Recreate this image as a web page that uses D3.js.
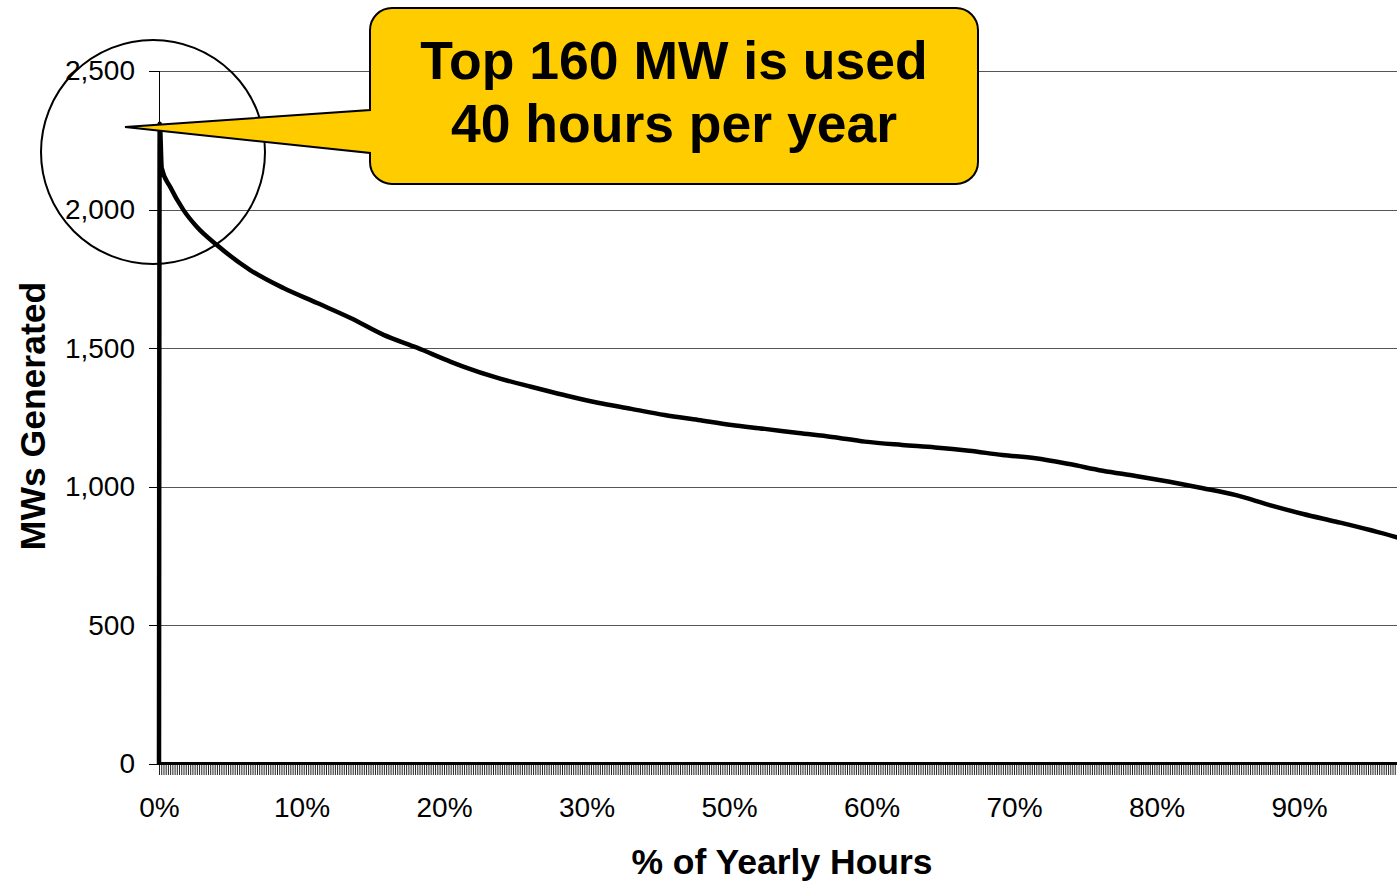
<!DOCTYPE html>
<html>
<head>
<meta charset="utf-8">
<script src="https://cdn.jsdelivr.net/npm/d3@7"></script>
<style>
  html, body { margin: 0; padding: 0; background: #fff; }
  svg { display: block; }
  text { font-family: Arial, "Liberation Sans", sans-serif; }
</style>
</head>
<body>
<svg id="chart" width="1397" height="881"></svg>
<script>
// ---- data ----
// x position in label slots (one slot = one labelled step on the category axis)
const xTickSlots = [0, 1, 2, 3, 4, 5, 6, 7, 8];
const xTickLabels = ["0%", "10%", "20%", "30%", "50%", "60%", "70%", "80%", "90%"];
const yTickValues = [0, 500, 1000, 1500, 2000, 2500];

const curveX = [0, 0.005, 0.007, 0.019, 0.077, 0.171, 0.265, 0.406, 0.640, 0.873, 1.110, 1.344,
  1.576, 1.814, 2.048, 2.140, 2.376, 2.611, 2.843, 3.080, 3.315, 3.547, 3.784, 4.018, 4.251,
  4.488, 4.722, 4.954, 5.215, 5.447, 5.684, 5.918, 6.151, 6.388, 6.622, 6.854, 7.091, 7.326,
  7.558, 7.795, 8.029, 8.262, 8.499, 8.710, 8.760];
const curveMW = [0, 2310, 2305, 2150, 2083, 1999, 1938, 1872, 1782, 1717, 1663, 1609,
  1548, 1501, 1451, 1433, 1393, 1361, 1331, 1303, 1281, 1259, 1241, 1223, 1209,
  1194, 1180, 1163, 1151, 1142, 1130, 1115, 1103, 1082, 1058, 1039, 1018, 995,
  970, 934, 902, 874, 844, 814, 805];

const calloutLines = ["Top 160 MW is used", "40 hours per year"];
const yTitle = "MWs Generated";
const xTitle = "% of Yearly Hours";

// ---- layout ----
const svg = d3.select("#chart");
const plotLeft = 159, plotBottom = 764, plotTop = 71;
const x = d3.scaleLinear().domain([0, 10]).range([plotLeft, plotLeft + 1425]);
const y = d3.scaleLinear().domain([0, 2500]).range([plotBottom, plotTop]);
const font = 'Arial, "Liberation Sans", sans-serif';

// gridlines
svg.append("g")
  .attr("transform", `translate(${plotLeft},0)`)
  .call(d3.axisLeft(y).tickValues(yTickValues.filter(v => v > 0)).tickSize(-1400).tickFormat(""))
  .call(g => g.select(".domain").remove())
  .call(g => g.selectAll("line").attr("stroke", "#555").attr("stroke-width", 1)
    .attr("shape-rendering", "crispEdges"));

// y axis
svg.append("g")
  .attr("transform", `translate(${plotLeft},0)`)
  .call(d3.axisLeft(y).tickValues(yTickValues).tickSize(10).tickPadding(14).tickFormat(d3.format(",")))
  .call(g => g.select(".domain").attr("stroke", "#000").attr("stroke-width", 1).attr("shape-rendering", "crispEdges"))
  .call(g => g.selectAll("line").attr("stroke", "#000").attr("shape-rendering", "crispEdges"))
  .call(g => g.selectAll("text").attr("font-size", 28).attr("font-family", font).attr("fill", "#000"));

// minor x ticks (dense category ticks)
const minorTicks = d3.range(0, 10, 1 / 64);
svg.append("g")
  .attr("transform", `translate(0,${plotBottom})`)
  .call(d3.axisBottom(x).tickValues(minorTicks).tickSize(11).tickFormat(""))
  .call(g => g.select(".domain").remove())
  .call(g => g.selectAll("line").attr("stroke", "#222").attr("stroke-width", 1));

// x labels
svg.append("g")
  .attr("transform", `translate(0,${plotBottom})`)
  .call(d3.axisBottom(x).tickValues(xTickSlots).tickSize(0).tickPadding(33)
    .tickFormat((d, i) => xTickLabels[i]))
  .call(g => g.select(".domain").remove())
  .call(g => g.selectAll("text").attr("font-size", 28).attr("font-family", font).attr("fill", "#000"));

// x axis line
svg.append("line")
  .attr("x1", x(0)).attr("x2", 1397).attr("y1", y(0) - 0.5).attr("y2", y(0) - 0.5)
  .attr("stroke", "#000").attr("stroke-width", 3);

// curve
const pts = curveX.map((v, i) => [v, curveMW[i]]);
svg.append("path")
  .datum(pts)
  .attr("fill", "none")
  .attr("stroke", "#000")
  .attr("stroke-width", 4.5)
  .attr("stroke-linejoin", "round")
  .attr("d", d3.line().curve(d3.curveMonotoneX).x(d => x(d[0])).y(d => y(d[1])));

// axis titles
svg.append("text")
  .attr("x", 782).attr("y", 874)
  .attr("text-anchor", "middle")
  .attr("font-size", 35.5).attr("font-weight", "bold")
  .text(xTitle);

svg.append("text")
  .attr("transform", "translate(45,416) rotate(-90)")
  .attr("text-anchor", "middle")
  .attr("font-size", 35.5).attr("font-weight", "bold")
  .text(yTitle);

// highlight circle
svg.append("circle")
  .attr("cx", 153).attr("cy", 152).attr("r", 112)
  .attr("fill", "none").attr("stroke", "#000").attr("stroke-width", 2);

// callout
const bx0 = 370, bx1 = 978, by0 = 8, by1 = 184, r = 22;
const tip = [125, 127];
const calloutPath = `M${bx0 + r},${by0} H${bx1 - r} A${r},${r} 0 0 1 ${bx1},${by0 + r} V${by1 - r}
  A${r},${r} 0 0 1 ${bx1 - r},${by1} H${bx0 + r} A${r},${r} 0 0 1 ${bx0},${by1 - r}
  V153 L${tip[0]},${tip[1]} L${bx0},110 V${by0 + r} A${r},${r} 0 0 1 ${bx0 + r},${by0} Z`;
svg.append("path")
  .attr("d", calloutPath)
  .attr("fill", "#FFCC00").attr("stroke", "#000").attr("stroke-width", 2)
  .attr("stroke-linejoin", "miter");

svg.append("g").selectAll("text")
  .data(calloutLines)
  .join("text")
  .attr("x", 674)
  .attr("y", (d, i) => 79 + i * 63)
  .attr("text-anchor", "middle")
  .attr("font-size", 53.5).attr("font-weight", "bold").attr("fill", "#000")
  .text(d => d);
</script>
</body>
</html>
